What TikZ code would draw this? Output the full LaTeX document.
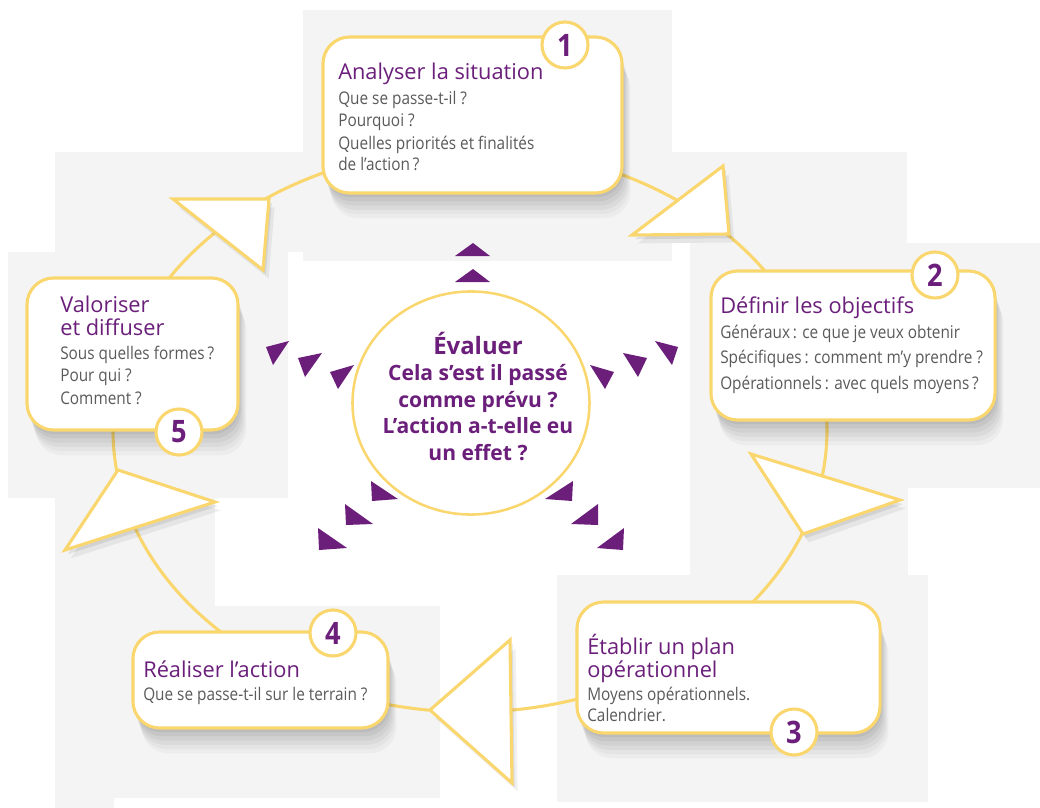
\documentclass[tikz,border=0pt]{standalone}
\usepackage{fontspec}
\setmainfont{Open Sans}
\newfontfamily\cnd[FakeStretch=0.88]{Open Sans}
\usetikzlibrary{shapes,shadows}
\definecolor{pur}{RGB}{107,31,123}
\definecolor{ylw}{RGB}{250,215,110}
\definecolor{txt}{RGB}{90,90,90}
\definecolor{pnl}{RGB}{244,244,244}
\tikzstyle{pn}=[fill=pnl]
\tikzstyle{sft}=[drop shadow={shadow xshift=1pt,shadow yshift=-3pt,opacity=.05,fill=black},drop shadow={shadow xshift=2pt,shadow yshift=-6pt,opacity=.05,fill=black},drop shadow={shadow xshift=3pt,shadow yshift=-9pt,opacity=.04,fill=black},drop shadow={shadow xshift=4pt,shadow yshift=-12pt,opacity=.04,fill=black},drop shadow={shadow xshift=5pt,shadow yshift=-15pt,opacity=.03,fill=black},drop shadow={shadow xshift=6pt,shadow yshift=-18pt,opacity=.03,fill=black}]
\tikzstyle{ring}=[draw=ylw,line width=2.2pt]
\tikzstyle{tri}=[draw=ylw,line width=2.2pt,fill=white,line join=miter,drop shadow={shadow xshift=2pt,shadow yshift=-3pt,opacity=.08,fill=black},drop shadow={shadow xshift=4pt,shadow yshift=-6pt,opacity=.06,fill=black}]
\tikzstyle{bx}=[draw=ylw,line width=2.2pt,fill=white,rounded corners=19pt,inner sep=0pt,sft]
\tikzstyle{nb}=[circle,draw=ylw,line width=2.2pt,fill=white,minimum size=1.15cm,inner sep=0pt,text=pur,font=\cnd\bfseries\fontsize{22}{22}\selectfont]
\tikzstyle{tt}=[anchor=base west,inner sep=0pt,text=pur,font=\fontsize{15.5}{18}\selectfont]
\tikzstyle{bd}=[anchor=base west,inner sep=0pt,text=txt,font=\cnd\fontsize{12.4}{15}\selectfont]
\tikzstyle{evc}=[ellipse,draw=ylw,line width=1.8pt,fill=white,minimum width=5.925cm,minimum height=5.575cm,inner sep=0pt]
\tikzstyle{evt}=[anchor=base,inner sep=0pt,text=pur,font=\bfseries\fontsize{15}{18}\selectfont]
\tikzstyle{ar}=[fill=pur]

\begin{document}
\begin{tikzpicture}[x=0.025cm,y=-0.025cm]
\useasboundingbox (0,0) rectangle (1040,808);
\fill[pn] (303,10) rectangle (672,261);
\fill[pn] (55,152) rectangle (303,252);
\fill[pn] (672,152) rectangle (907,243);
\fill[pn] (8,252) rectangle (288,498);
\fill[pn] (690,243) rectangle (1040,488);
\fill[pn] (55,498) rectangle (215,606);
\fill[pn] (55,606) rectangle (114,808);
\fill[pn] (690,488) rectangle (908,575);
\fill[pn] (557,575) rectangle (928,802);
\fill[pn] (114,606) rectangle (440,798);

\draw[ring] (470,430) ellipse [x radius=357, y radius=282];

\draw[tri] (723,166) -- (632,235) -- (729,234) -- cycle;
\draw[tri] (751,454) -- (900,500) -- (803,534) -- cycle;
\draw[tri] (510,640) -- (430,710) -- (512,783) -- cycle;
\draw[tri] (118,470) -- (215,502) -- (65,550) -- cycle;
\draw[tri] (173,199) -- (269,199) -- (263,270) -- cycle;

\node[bx,minimum width=7.475cm,minimum height=3.9cm] (b1) at (472.5,115) {};
\node[bx,minimum width=7.1cm,minimum height=3.725cm] (b2) at (853,345.5) {};
\node[bx,minimum width=7.575cm,minimum height=3.275cm] (b3) at (728.5,667.5) {};
\node[bx,minimum width=6.375cm,minimum height=2.4cm] (b4) at (260.5,680) {};
\node[bx,minimum width=5.275cm,minimum height=3.8cm] (b5) at (132.5,354) {};

\node[nb] (n1) at (565,45) {1};
\node[nb] (n2) at (935,275) {2};
\node[nb] (n3) at (794,732) {3};
\node[nb] (n4) at (333,633) {4};
\node[nb] (n5) at (179,432) {5};

\node[tt] (t1) at (338,80) {Analyser la situation};
\node[bd] (t1a) at (338,104) {Que se passe-t-il ?};
\node[bd] (t1b) at (338,127) {Pourquoi ?};
\node[bd] (t1c) at (338,149) {Quelles priorités et finalités};
\node[bd] (t1d) at (338,170) {de l’action\,?};

\node[tt] (t2) at (720,313) {Définir les objectifs};
\node[bd] (t2a) at (720,338) {Généraux\,: ce que je veux obtenir};
\node[bd] (t2b) at (720,363) {Spécifiques\,: comment m’y prendre ?};
\node[bd] (t2c) at (720,389) {Opérationnels\,: avec quels moyens\,?};

\node[tt] (t3) at (587,654) {Établir un plan};
\node[tt] (t3x) at (587,677) {opérationnel};
\node[bd] (t3a) at (587,700) {Moyens opérationnels.};
\node[bd] (t3b) at (587,721) {Calendrier.};

\node[tt] (t4) at (143,677) {Réaliser l’action};
\node[bd] (t4a) at (143,700) {Que se passe-t-il sur le terrain ?};

\node[tt] (t5) at (60,312) {Valoriser};
\node[tt] (t5x) at (60,335) {et diffuser};
\node[bd] (t5a) at (60,359) {Sous quelles formes\,?};
\node[bd] (t5b) at (60,381) {Pour qui ?};
\node[bd] (t5c) at (60,404) {Comment ?};

\fill[ar] (455,256) -- (490,256) -- (473,243) -- cycle;
\fill[ar] (455,282) -- (490,282) -- (473,269) -- cycle;
\fill[ar] (266,347) -- (289,341) -- (273,365) -- cycle;
\fill[ar] (298,358) -- (322,353) -- (305,377) -- cycle;
\fill[ar] (330,372) -- (354,365) -- (338,389) -- cycle;
\fill[ar] (590,365) -- (614,372) -- (605,389) -- cycle;
\fill[ar] (623,353) -- (647,358) -- (638,377) -- cycle;
\fill[ar] (655,341) -- (678,347) -- (672,365) -- cycle;
\fill[ar] (371,481) -- (372,501) -- (398,499) -- cycle;
\fill[ar] (345,504) -- (346,525) -- (373,524) -- cycle;
\fill[ar] (318,528) -- (319,550) -- (347,548) -- cycle;
\fill[ar] (573,481) -- (572,501) -- (545,499) -- cycle;
\fill[ar] (598,504) -- (598,525) -- (571,524) -- cycle;
\fill[ar] (624,528) -- (623,550) -- (597,548) -- cycle;

\node[evc] (ev) at (471,403) {};
\node[evt,font=\bfseries\fontsize{17}{20}\selectfont] (e0) at (478,354) {Évaluer};
\node[evt] (e1) at (478,380) {Cela s’est il passé};
\node[evt] (e2) at (478,407) {comme prévu ?};
\node[evt] (e3) at (478,433) {L’action a-t-elle eu};
\node[evt] (e4) at (478,460) {un effet ?};
\end{tikzpicture}
\end{document}
